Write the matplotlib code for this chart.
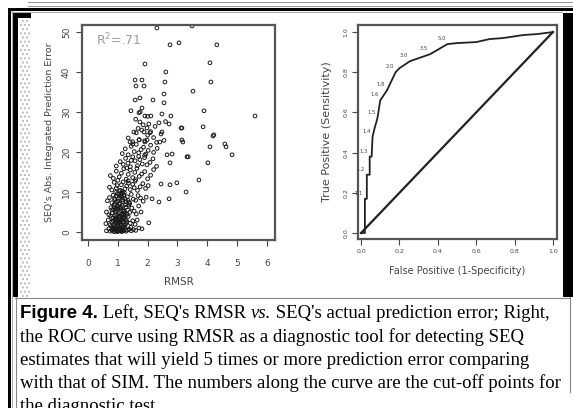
import matplotlib
matplotlib.use("Agg")
import matplotlib.pyplot as plt
from matplotlib.patches import Rectangle
from matplotlib.lines import Line2D

# ---- data ----
# left panel: RMSR vs. SEQ's abs. integrated prediction error
rmsr = [
    # dense part, y about 0-2
    0.62, 0.70, 0.75, 0.80, 0.84, 0.88, 0.90, 0.93, 0.96, 1.00, 1.02, 1.05, 1.08, 1.10, 1.13,
    1.16, 1.20, 1.24, 1.28, 1.32, 1.38, 1.45, 1.52, 1.60, 0.86, 0.98, 1.12, 1.18, 0.78, 1.06,
    # y about 2-4
    0.60, 0.68, 0.74, 0.80, 0.83, 0.87, 0.90, 0.94, 0.97, 1.00, 1.03, 1.07, 1.10, 1.14, 1.17,
    1.21, 1.25, 1.30, 1.35, 1.42, 1.50, 1.58, 0.92, 1.02, 1.12, 0.85, 0.96, 1.19, 1.27, 1.65,
    # y about 4-7
    0.62, 0.70, 0.77, 0.82, 0.86, 0.90, 0.93, 0.97, 1.00, 1.04, 1.08, 1.11, 1.15, 1.19, 1.23,
    1.28, 1.33, 1.40, 1.47, 1.55, 1.62, 1.70, 0.95, 1.06, 1.16, 0.88, 1.25, 1.36, 1.02, 1.78,
    # y about 7-10
    0.65, 0.72, 0.80, 0.85, 0.90, 0.95, 0.99, 1.03, 1.07, 1.12, 1.17, 1.22, 1.27, 1.32, 1.38,
    1.45, 1.52, 1.60, 1.68, 1.76, 1.85, 0.93, 1.10, 1.25, 1.40, 1.95,
    # y about 10-13
    0.72, 0.80, 0.88, 0.95, 1.00, 1.06, 1.12, 1.18, 1.24, 1.30, 1.36, 1.42, 1.50, 1.58, 1.66,
    1.75, 1.84, 1.93, 2.02, 1.15, 1.35, 1.55,
    # y about 13-16
    0.75, 0.85, 0.95, 1.05, 1.12, 1.20, 1.28, 1.35, 1.42, 1.50, 1.57, 1.64, 1.72, 1.80, 1.90,
    2.00, 2.10, 2.20, 1.30, 1.60,
    # y about 16-19
    0.95, 1.08, 1.18, 1.26, 1.34, 1.42, 1.50, 1.58, 1.66, 1.74, 1.82, 1.90, 1.98, 2.08, 2.18,
    2.30, 1.45, 1.70,
    # y about 19-22
    1.15, 1.25, 1.35, 1.45, 1.55, 1.62, 1.70, 1.78, 1.86, 1.94, 2.02, 2.10, 2.20, 2.32, 1.50, 1.90,
    # y about 22-30
    1.35, 1.50, 1.62, 1.72, 1.80, 1.90, 2.00, 2.10, 2.20, 2.30, 2.45, 1.68, 1.98, 2.55,
    1.60, 1.85, 2.00, 2.25, 1.75, 2.60,
    # extra points in the dark core, y about 0-9
    0.82, 0.88, 0.94, 0.99, 1.04, 1.09, 1.14, 1.19, 1.23, 0.85, 0.91, 0.97, 1.03, 1.08, 1.13,
    1.17, 1.22, 1.29, 0.80, 0.87, 0.92, 1.00, 1.05, 1.11, 1.16, 1.21, 1.26, 1.31, 0.89, 0.95,
    1.01, 1.07, 1.14, 1.20, 1.34, 1.44, 0.76, 1.09, 0.98, 1.15,
    # sparse points
    2.31, 3.49, 2.75, 3.05, 4.32, 1.91, 4.09, 2.61, 1.58, 1.81, 1.61, 1.88, 2.58, 4.12, 3.52,
    2.55, 1.58, 1.74, 2.18, 2.55, 1.44, 1.81, 1.71, 1.91, 2.11, 2.48, 2.78, 3.89, 5.60, 1.74,
    2.04, 1.98, 2.38, 2.72, 3.12, 3.86, 1.54, 1.88, 2.08, 2.48, 4.22, 1.41, 1.71, 1.91, 2.41,
    3.15, 4.59, 4.19, 3.15, 3.18, 4.09, 4.63, 4.83, 3.32, 3.36, 4.02, 3.72, 3.29, 2.98, 2.75,
    2.45, 2.72, 2.38, 2.15, 2.82, 2.65, 2.75, 2.04, 1.71, 1.81,
]
abs_err = [
    0.3, 0.8, 0.2, 0.5, 1.0, 0.1, 0.6, 0.9, 0.3, 0.7, 0.2, 1.1, 0.4, 0.8, 0.1,
    0.6, 0.3, 0.9, 0.2, 0.5, 0.7, 0.3, 0.6, 0.4, 0.2, 0.1, 0.3, 1.2, 1.4, 1.6,
    2.1, 3.0, 1.8, 2.6, 3.5, 1.9, 2.9, 2.2, 3.8, 1.7, 2.7, 3.3, 2.0, 3.6, 2.4,
    1.8, 3.1, 2.5, 3.9, 2.2, 2.8, 1.9, 3.2, 2.3, 2.9, 1.6, 3.4, 3.7, 2.0, 3.0,
    5.0, 4.3, 6.1, 4.8, 5.6, 6.8, 4.2, 5.3, 6.4, 4.6, 5.9, 4.4, 6.6, 5.1, 4.7,
    6.2, 5.5, 4.9, 6.0, 5.2, 4.5, 6.5, 5.8, 4.1, 5.4, 6.9, 4.3, 6.7, 6.0, 5.0,
    7.8, 8.6, 7.3, 9.2, 8.1, 7.5, 9.6, 8.4, 7.2, 9.0, 8.0, 9.8, 7.6, 8.8, 7.4,
    9.4, 8.2, 7.9, 9.1, 8.5, 7.7, 9.9, 9.5, 8.3, 7.1, 8.7,
    11.2, 10.5, 12.4, 11.0, 12.9, 10.3, 11.8, 12.5, 10.8, 11.5, 12.2, 10.6, 11.9, 12.7, 10.4,
    11.3, 12.1, 10.9, 11.6, 10.1, 12.8, 11.1,
    14.1, 13.4, 15.2, 13.8, 14.7, 15.8, 13.2, 14.4, 15.5, 13.6, 14.9, 15.9, 13.9, 14.5, 15.1,
    13.3, 14.2, 15.6, 16.0, 13.1,
    16.5, 17.6, 16.9, 18.4, 17.2, 16.3, 18.8, 17.8, 16.6, 18.1, 17.0, 18.6, 16.8, 17.4, 18.3,
    16.4, 17.9, 18.9,
    19.6, 20.8, 19.3, 21.4, 20.1, 21.9, 19.8, 20.6, 21.2, 19.5, 20.4, 21.7, 19.9, 20.9, 22.0, 19.2,
    23.5, 22.6, 24.8, 23.1, 25.5, 22.8, 24.2, 25.1, 23.6, 22.4, 24.5, 25.9, 23.0, 22.9,
    28.2, 26.8, 28.9, 26.4, 30.0, 27.6,
    0.5, 1.3, 0.9, 1.5, 0.4, 1.8, 1.2, 0.6, 1.6, 2.8, 3.3, 2.4, 3.9, 2.6, 3.1,
    4.2, 3.6, 2.9, 5.5, 6.3, 4.9, 5.7, 7.0, 6.2, 7.6, 5.3, 6.8, 4.4, 8.4, 9.0,
    7.7, 8.9, 8.6, 9.3, 7.9, 1.2, 4.0, 10.4, 11.6, 9.7,
    51.0, 51.5, 46.8, 47.3, 46.8, 42.0, 42.3, 40.0, 38.0, 38.0, 36.5, 36.5, 37.5, 37.5, 35.2,
    34.5, 33.0, 33.5, 33.0, 32.3, 30.3, 31.0, 29.8, 29.0, 29.0, 29.5, 29.0, 30.3, 29.0, 27.5,
    27.0, 26.0, 27.3, 27.0, 26.0, 26.3, 25.0, 25.0, 24.8, 25.0, 24.3, 22.5, 23.0, 22.5, 22.5,
    23.0, 22.0, 24.0, 26.0, 22.5, 21.3, 21.3, 19.3, 18.8, 18.8, 17.3, 13.0, 10.0, 12.3, 11.8,
    12.0, 8.3, 7.5, 8.3, 19.5, 19.3, 17.3, 2.3, 1.0, 0.8,
]
r2_text = "R$^2$=.71"

# right panel: ROC curve (false positive rate, true positive rate)
fpr = [0.0, 0.02, 0.02, 0.03, 0.03, 0.045, 0.045, 0.055, 0.06, 0.07, 0.085, 0.10, 0.135,
       0.18, 0.20, 0.255, 0.36, 0.45, 0.50, 0.60, 0.67, 0.74, 0.845, 0.92, 1.0]
tpr = [0.0, 0.0, 0.17, 0.17, 0.29, 0.29, 0.38, 0.38, 0.48, 0.52, 0.57, 0.66, 0.71,
       0.80, 0.82, 0.855, 0.89, 0.94, 0.945, 0.95, 0.965, 0.97, 0.985, 0.99, 1.0]
cut_labels = ["5.0", "3.5", "3.0", "2.0", "1.8", "1.6", "1.5", "1.4", "1.3", "1.2", "1.1"]
cut_fpr = [0.45, 0.36, 0.255, 0.18, 0.135, 0.10, 0.085, 0.06, 0.045, 0.03, 0.02]
cut_tpr = [0.94, 0.89, 0.855, 0.80, 0.71, 0.66, 0.57, 0.48, 0.38, 0.29, 0.17]

W, H = 573, 408
fig = plt.figure(figsize=(W / 100, H / 100), dpi=100)
fig.patch.set_facecolor("white")


def fx(px):
    return px / W


def fy(py):
    return 1 - py / H


def box(x0, y0, x1, y1, color, **kw):
    fig.add_artist(Rectangle((fx(x0), fy(y1)), fx(x1) - fx(x0), fy(y0) - fy(y1),
                             transform=fig.transFigure, facecolor=color,
                             edgecolor="none", **kw))


def hline(y, x0, x1, color, lw=1):
    fig.add_artist(Line2D([fx(x0), fx(x1)], [fy(y), fy(y)], transform=fig.transFigure,
                          color=color, lw=lw))


def vline(x, y0, y1, color, lw=1):
    fig.add_artist(Line2D([fx(x), fx(x)], [fy(y0), fy(y1)], transform=fig.transFigure,
                          color=color, lw=lw))


# page frame around the figure
hline(1.5, 28, W, "#999999", 0.8)
hline(5.5, 28, W, "#999999", 0.8)
box(8, 8, W, 10.5, "black")
box(8, 8, 10.5, H, "black")
hline(11.5, 11, 562, "#aaaaaa", 0.8)
vline(11.5, 11, H, "#aaaaaa", 0.8)
box(13, 13, 18, 297, "black")
box(13, 13, 31, 18, "black")
fig.add_artist(Rectangle((fx(20), fy(297)), fx(30) - fx(20), fy(20) - fy(297),
                         transform=fig.transFigure, facecolor="white",
                         edgecolor="#bbbbbb", hatch="....", lw=0))
box(563, 13, W, 297, "black")
hline(297.5, 15, 570, "#888888", 0.8)
vline(15.5, 297, H, "#888888", 0.8)
vline(569.5, 297, 392, "#888888", 0.8)

grey = "#444444"

# ---- left panel ----
ax1 = fig.add_axes([fx(82), fy(240), fx(275) - fx(82), fy(25) - fy(240)])
ax1.scatter(rmsr, abs_err, s=7, facecolors="none", edgecolors="#1a1a1a", linewidths=0.7)
ax1.set_xlim(-0.2, 6.27)
ax1.set_ylim(-2, 51.75)
ax1.set_xticks(range(0, 7))
ax1.set_yticks(range(0, 51, 10))
ax1.tick_params(axis="both", colors=grey, labelsize=6.5, length=4, width=0.8, pad=10)
ax1.tick_params(axis="y", pad=4)
for lab in ax1.get_yticklabels():
    lab.set_rotation(90)
    lab.set_va("center")
ax1.set_xlabel("RMSR", fontsize=7.5, color=grey, labelpad=6)
ax1.set_ylabel("SEQ's Abs. Integrated Prediction Error", fontsize=6.8, color=grey, labelpad=6)
ax1.text(0.07, 0.93, r2_text, transform=ax1.transAxes, fontsize=9, color="#999999",
         va="center")

# ---- right panel ----
ax2 = fig.add_axes([fx(358), fy(239), fx(557) - fx(358), fy(25) - fy(239)])
ax2.plot(fpr, tpr, color="#222222", lw=1.3, clip_on=False)
ax2.plot([0, 1], [0, 1], color="#222222", lw=1.6)
for lab, x, y in zip(cut_labels, cut_fpr, cut_tpr):
    ax2.text(x - 0.01, y + 0.015, lab, fontsize=3.8, color="#444444", ha="right", va="bottom")
ax2.set_xlim(-0.016, 1.021)
ax2.set_ylim(-0.03, 1.035)
ticks = [0.0, 0.2, 0.4, 0.6, 0.8, 1.0]
ax2.set_xticks(ticks)
ax2.set_yticks(ticks)
ax2.set_xticklabels(["%.1f" % t for t in ticks])
ax2.set_yticklabels(["%.1f" % t for t in ticks])
ax2.tick_params(axis="both", colors=grey, labelsize=4.5, length=4, width=0.8, pad=3)
for lab in ax2.get_yticklabels():
    lab.set_rotation(90)
    lab.set_va("center")
ax2.set_xlabel("False Positive (1-Specificity)", fontsize=7, color=grey, labelpad=9)
ax2.set_ylabel("True Positive (Sensitivity)", fontsize=8, color=grey, labelpad=8)

for ax in (ax1, ax2):
    for sp in ax.spines.values():
        sp.set_color("#555555")
        sp.set_linewidth(1.6)

# ---- caption ----
renderer = fig.canvas.get_renderer()
serif = "Liberation Serif"
cap_size = 13.5


def run_line(pieces, y):
    x = 20
    for text, kw in pieces:
        t = fig.text(fx(x), fy(y), text, fontsize=cap_size, va="baseline", ha="left", **kw)
        bb = t.get_window_extent(renderer)
        x += bb.width
    return x


run_line([("Figure 4.", dict(family="Liberation Sans", weight="bold")),
          (" Left, SEQ's RMSR ", dict(family=serif)),
          ("vs.", dict(family=serif, style="italic")),
          (" SEQ's actual prediction error; Right,", dict(family=serif))], 318)
caption_rest = [
    "the ROC curve using RMSR as a diagnostic tool for detecting SEQ",
    "estimates that will yield 5 times or more prediction error comparing",
    "with that of SIM. The numbers along the curve are the cut-off points for",
    "the diagnostic test.",
]
for i, line in enumerate(caption_rest):
    fig.text(fx(20), fy(341.5 + 23.3 * i), line, fontsize=cap_size, family=serif,
             va="baseline", ha="left")

fig.savefig("out.png", dpi=100)
